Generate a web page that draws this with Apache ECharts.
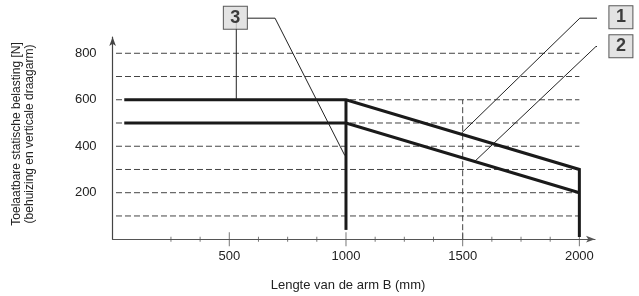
<!DOCTYPE html>
<html>
<head>
<meta charset="utf-8">
<script src="https://cdn.jsdelivr.net/npm/echarts@6/dist/echarts.min.js"></script>
<style>
html,body{margin:0;padding:0;background:#fff;}
#c{width:639px;height:296px;}
</style>
</head>
<body>
<div id="c"></div>
<script>
// ---- data ----
var line1 = [[50, 600], [1000, 600], [2000, 300], [2000, 10]];
var line1Drop = [[1000, 600], [1000, 40]];
var line2 = [[50, 500], [1000, 500], [2000, 200]];
var gridValues = [100, 200, 300, 400, 500, 600, 700, 800];
var gridStartX = -24, gridEndX = 2000;
var vGrid = [[1500, 0], [1500, 600]];
var majorTicks = [500, 1000, 1500, 2000];
var minorTicks = [250, 375, 625, 750, 875, 1125, 1250, 1375, 1625, 1750, 1875];
var yLabelValues = [200, 400, 600, 800];
var xLabelValues = [500, 1000, 1500, 2000];
var calloutBoxes = [
  {name: '3', value: [526, 953]},
  {name: '1', value: [2178, 955]},
  {name: '2', value: [2178, 830]}
];
var leader3a = [[530, 944], [530, 600]];
var leader3b = [[577, 951], [696, 951], [995, 360]];
var leader1 = [[2128, 951], [2002, 951], [1495, 456]];
var leader2 = [[2128, 829], [2071, 829], [1553, 336]];
var xTitle = 'Lengte van de arm B (mm)';
var yTitle = 'Toelaatbare statische belasting [N]\n(behuizing en verticale draagarm)';

var FONT = 'Liberation Sans, Arial, sans-serif';
var chart = echarts.init(document.getElementById('c'), null, {renderer: 'canvas'});

var series = [];
gridValues.forEach(function (v) {
  series.push({
    type: 'line', data: [[gridStartX, v], [gridEndX, v]], clip: false, silent: true,
    symbol: 'none', lineStyle: {color: '#444', width: 1, type: [6, 3]}, z: 1
  });
});
series.push({
  type: 'line', data: vGrid, clip: false, silent: true, symbol: 'none',
  lineStyle: {color: '#444', width: 1, type: [6, 3]}, z: 1
});
[line1, line1Drop, line2].forEach(function (d) {
  series.push({
    type: 'line', data: d, clip: false, silent: true, symbol: 'none',
    lineStyle: {color: '#1a1a1a', width: 3, join: 'miter'}, z: 5
  });
});
[leader3a, leader3b, leader1, leader2].forEach(function (d) {
  series.push({
    type: 'line', data: d, clip: false, silent: true, symbol: 'none',
    lineStyle: {color: '#222', width: 1}, z: 6
  });
});
series.push({
  type: 'scatter', data: majorTicks.map(function (v) { return [v, 0]; }), clip: false, silent: true,
  symbol: 'rect', symbolSize: [1, 14], itemStyle: {color: '#555'}, z: 4
});
series.push({
  type: 'scatter', data: minorTicks.map(function (v) { return [v, 0]; }), clip: false, silent: true,
  symbol: 'rect', symbolSize: [1, 5], itemStyle: {color: '#555'}, z: 4
});
series.push({
  type: 'scatter', data: calloutBoxes, clip: false, silent: true,
  symbol: 'rect', symbolSize: [24, 23],
  itemStyle: {color: '#dcdcdc', borderColor: '#333', borderWidth: 1},
  label: {show: true, position: 'inside', formatter: '{b}', fontSize: 18, fontWeight: 'bold', color: '#111', fontFamily: FONT},
  z: 10
});

chart.setOption({
  animation: false,
  backgroundColor: '#fff',
  grid: {left: 112.6, right: 44, top: 37, bottom: 56.8, containLabel: false},
  xAxis: {
    type: 'value', min: 0, max: 2067, interval: 500,
    axisLine: {show: true, symbol: ['none', 'arrow'], symbolSize: [5, 9], lineStyle: {color: '#555', width: 1.2}},
    axisTick: {show: false}, splitLine: {show: false},
    axisLabel: {
      margin: 11, fontSize: 13, color: '#222', fontFamily: FONT,
      formatter: function (v) { return xLabelValues.indexOf(v) >= 0 ? String(v) : ''; }
    }
  },
  yAxis: {
    type: 'value', min: 0, max: 870, interval: 100,
    axisLine: {show: true, symbol: ['none', 'arrow'], symbolSize: [5, 9], lineStyle: {color: '#444', width: 1.2}},
    axisTick: {show: false}, splitLine: {show: false},
    axisLabel: {
      margin: 16, fontSize: 13, color: '#222', fontFamily: FONT,
      formatter: function (v) { return yLabelValues.indexOf(v) >= 0 ? String(v) : ''; }
    }
  },
  graphic: [
    {type: 'text', x: 348, y: 285, style: {text: xTitle, fontSize: 13, fontFamily: FONT, fill: '#222', textAlign: 'center', textVerticalAlign: 'middle'}},
    {type: 'text', x: 23.4, y: 134, rotation: Math.PI / 2, style: {text: yTitle, fontSize: 12, lineHeight: 13.3, fontFamily: FONT, fill: '#222', textAlign: 'center', textVerticalAlign: 'middle'}}
  ],
  series: series
});
</script>
</body>
</html>
